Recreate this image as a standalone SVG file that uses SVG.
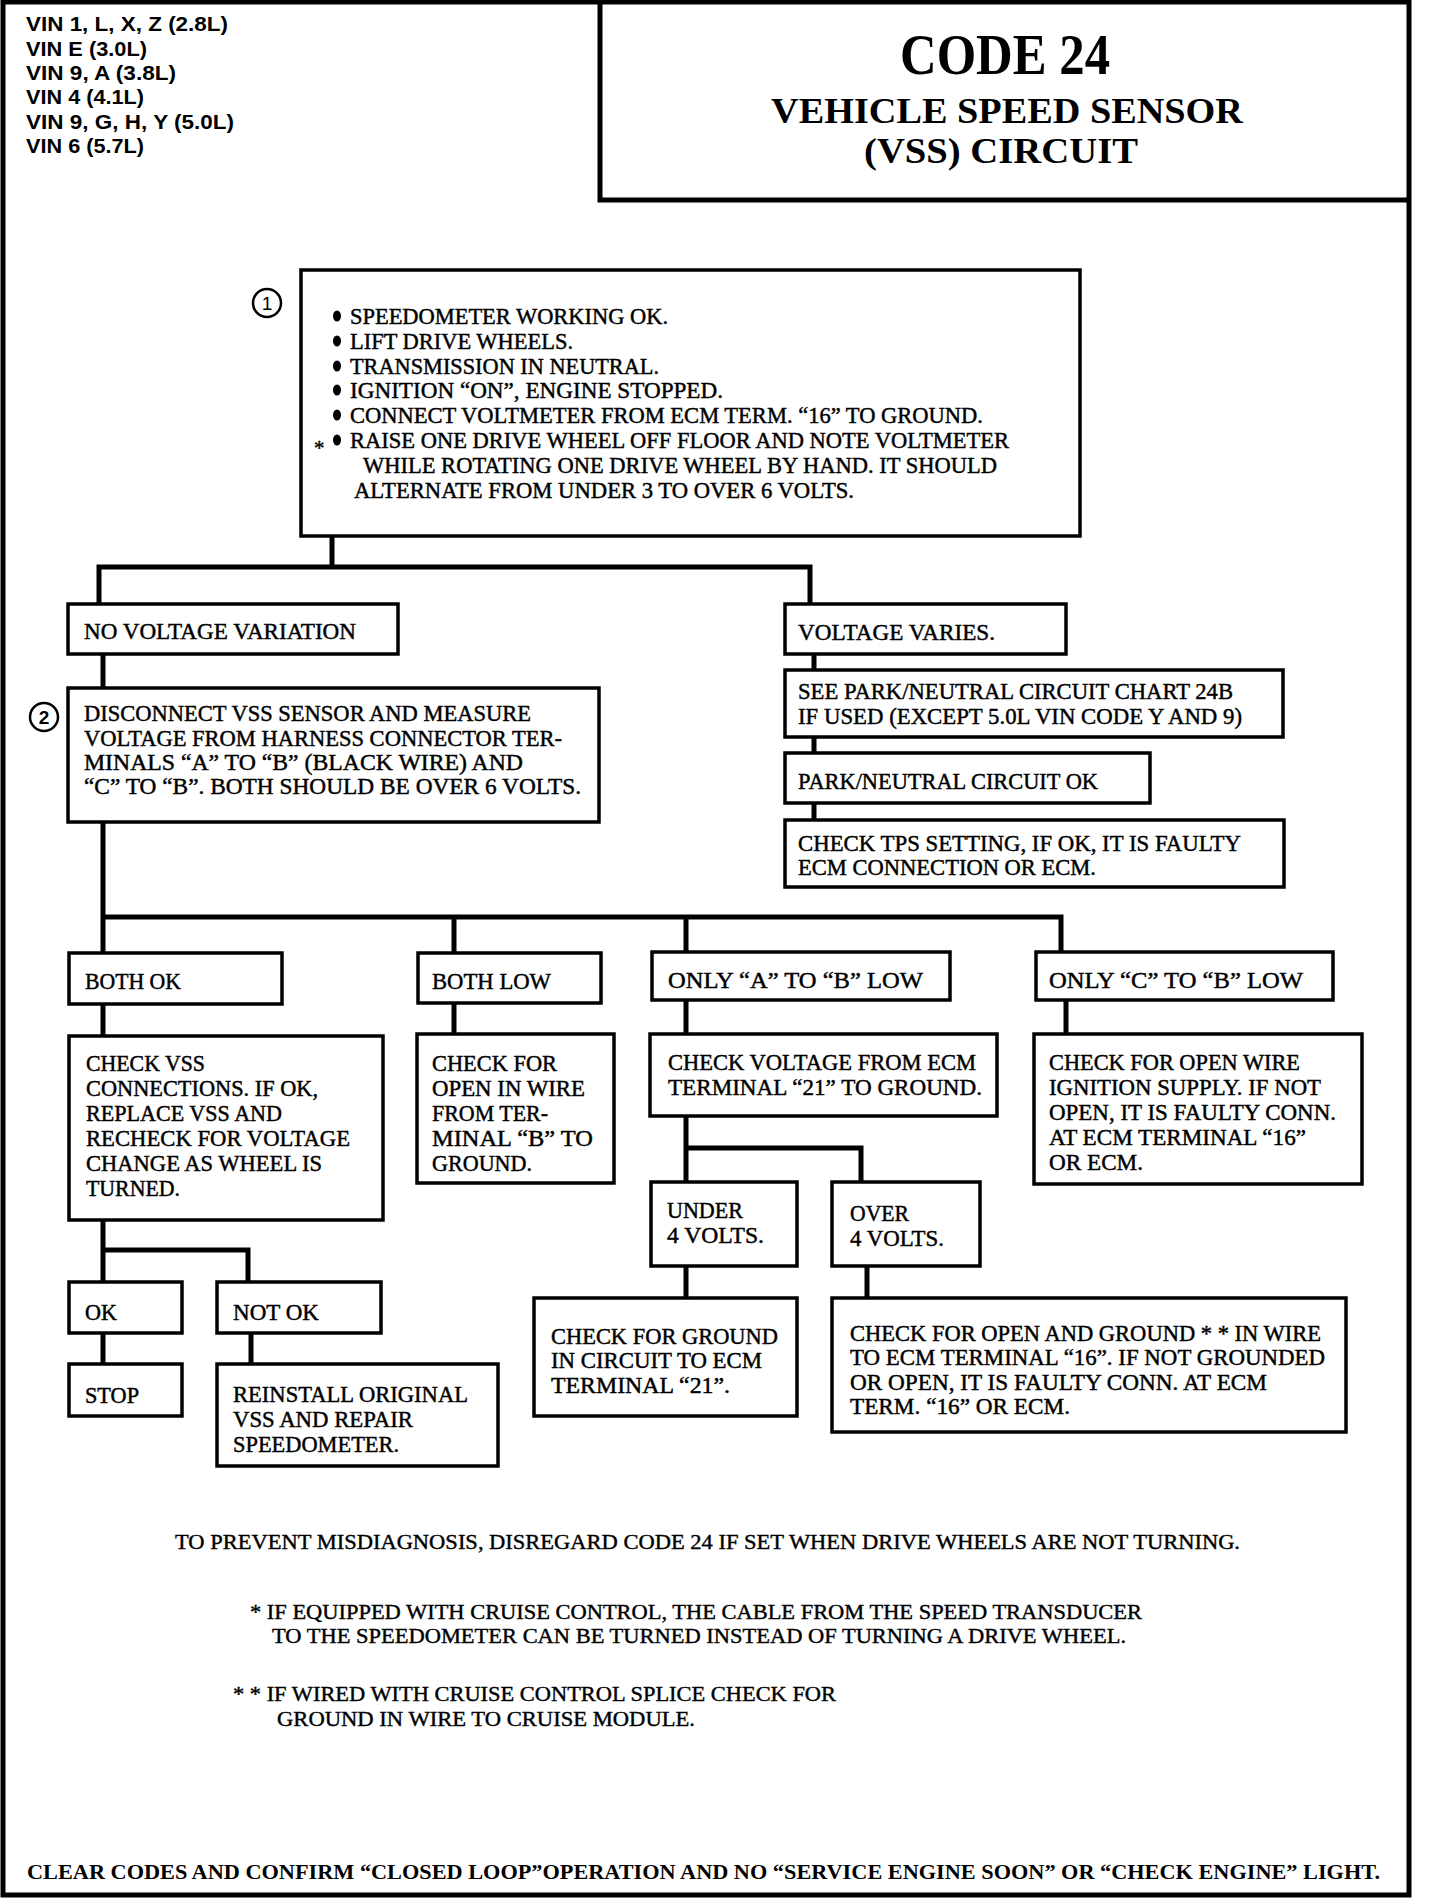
<svg xmlns="http://www.w3.org/2000/svg" width="1440" height="1902" viewBox="0 0 1440 1902">
<style>
.bg{fill:#fff}
.frame{fill:none;stroke:#000;stroke-width:5}
.box{fill:#fff;stroke:#000;stroke-width:3.5}
.conn{fill:none;stroke:#000;stroke-width:5;stroke-linecap:square}
.t{font-family:"Liberation Serif","Times New Roman",serif;font-size:23px;fill:#000;stroke:#000;stroke-width:0.45}
.n{font-family:"Liberation Serif","Times New Roman",serif;font-size:21px;fill:#000;stroke:#000;stroke-width:0.4}
.nb{font-family:"Liberation Serif","Times New Roman",serif;font-size:21px;font-weight:bold;fill:#000}
.vin{font-family:"Liberation Sans",Arial,sans-serif;font-size:20px;font-weight:bold;fill:#000}
.ti{font-family:"Liberation Serif","Times New Roman",serif;font-weight:bold;fill:#000;text-anchor:middle}
.circ{fill:#fff;stroke:#000;stroke-width:2.5}
.cn{font-family:"Liberation Sans",Arial,sans-serif;font-size:19px;fill:#000;text-anchor:middle}
</style>
<rect class="bg" x="0" y="0" width="1440" height="1902"/>

<g id="frame">
<rect class="frame" x="3" y="2" width="1406" height="1893"/>
</g>

<g id="vin-list">
<text class="vin" x="26" y="31" textLength="202" lengthAdjust="spacingAndGlyphs">VIN 1, L, X, Z (2.8L)</text>
<text class="vin" x="26" y="56" textLength="121" lengthAdjust="spacingAndGlyphs">VIN E (3.0L)</text>
<text class="vin" x="26" y="80" textLength="150" lengthAdjust="spacingAndGlyphs">VIN 9, A (3.8L)</text>
<text class="vin" x="26" y="104" textLength="118" lengthAdjust="spacingAndGlyphs">VIN 4 (4.1L)</text>
<text class="vin" x="26" y="129" textLength="208" lengthAdjust="spacingAndGlyphs">VIN 9, G, H, Y (5.0L)</text>
<text class="vin" x="26" y="153" textLength="118" lengthAdjust="spacingAndGlyphs">VIN 6 (5.7L)</text>
</g>

<g id="title">
<path class="frame" d="M600,2 V200 H1409"/>
<text class="ti" x="1005" y="74" font-size="58" textLength="210" lengthAdjust="spacingAndGlyphs">CODE 24</text>
<text class="ti" x="1007" y="123" font-size="35" textLength="472" lengthAdjust="spacingAndGlyphs">VEHICLE SPEED SENSOR</text>
<text class="ti" x="1001" y="163" font-size="35" textLength="274" lengthAdjust="spacingAndGlyphs">(VSS) CIRCUIT</text>
</g>

<g id="connectors">
<path class="conn" d="M332,536 V567 M99,567 H810 M99,567 V604 M810,567 V604"/>
<path class="conn" d="M103,654 V688"/>
<path class="conn" d="M814,654 V670 M814,737 V753 M814,803 V820"/>
<path class="conn" d="M103,822 V917 M103,917 H1061 M103,917 V953 M454,917 V953 M686,917 V953 M1061,917 V953"/>
<path class="conn" d="M103,1004 V1036 M454,1003 V1034 M686,1000 V1034 M1066,1000 V1034"/>
<path class="conn" d="M686,1116 V1182 M686,1148 H861 V1182"/>
<path class="conn" d="M686,1266 V1298 M867,1266 V1298"/>
<path class="conn" d="M103,1220 V1282 M103,1250 H248 V1282"/>
<path class="conn" d="M103,1333 V1364 M251,1333 V1364"/>
</g>

<g id="step1">
<rect class="box" x="301" y="270" width="779" height="266"/>
<g id="marker1"><ellipse class="circ" cx="267" cy="303" rx="14" ry="14"/><text class="cn" x="267" y="310">1</text></g>
<g fill="#000">
<ellipse cx="337" cy="316" rx="4" ry="5.5"/>
<ellipse cx="337" cy="341" rx="4" ry="5.5"/>
<ellipse cx="337" cy="366" rx="4" ry="5.5"/>
<ellipse cx="337" cy="390" rx="4" ry="5.5"/>
<ellipse cx="337" cy="415" rx="4" ry="5.5"/>
<ellipse cx="337" cy="440" rx="4" ry="5.5"/>
</g>
<text class="n" x="314" y="455" font-size="16">*</text>
<text class="t" x="350" y="324" textLength="318" lengthAdjust="spacingAndGlyphs">SPEEDOMETER WORKING OK.</text>
<text class="t" x="350" y="349" textLength="223" lengthAdjust="spacingAndGlyphs">LIFT DRIVE WHEELS.</text>
<text class="t" x="350" y="374" textLength="309" lengthAdjust="spacingAndGlyphs">TRANSMISSION IN NEUTRAL.</text>
<text class="t" x="350" y="398" textLength="373" lengthAdjust="spacingAndGlyphs">IGNITION “ON”, ENGINE STOPPED.</text>
<text class="t" x="350" y="423" textLength="633" lengthAdjust="spacingAndGlyphs">CONNECT VOLTMETER FROM ECM TERM. “16” TO GROUND.</text>
<text class="t" x="350" y="448" textLength="659" lengthAdjust="spacingAndGlyphs">RAISE ONE DRIVE WHEEL OFF FLOOR AND NOTE VOLTMETER</text>
<text class="t" x="363" y="473" textLength="634" lengthAdjust="spacingAndGlyphs">WHILE ROTATING ONE DRIVE WHEEL BY HAND. IT SHOULD</text>
<text class="t" x="354" y="498" textLength="500" lengthAdjust="spacingAndGlyphs">ALTERNATE FROM UNDER 3 TO OVER 6 VOLTS.</text>
</g>

<g id="no-voltage-variation">
<rect class="box" x="68" y="604" width="330" height="50"/>
<text class="t" x="84" y="639" textLength="272" lengthAdjust="spacingAndGlyphs">NO VOLTAGE VARIATION</text>
</g>

<g id="voltage-varies">
<rect class="box" x="785" y="604" width="281" height="50"/>
<text class="t" x="798" y="640" textLength="197" lengthAdjust="spacingAndGlyphs">VOLTAGE VARIES.</text>
</g>

<g id="see-park-neutral">
<rect class="box" x="785" y="670" width="498" height="67"/>
<text class="t" x="798" y="699" textLength="435" lengthAdjust="spacingAndGlyphs">SEE PARK/NEUTRAL CIRCUIT CHART 24B</text>
<text class="t" x="798" y="724" textLength="444" lengthAdjust="spacingAndGlyphs">IF USED (EXCEPT 5.0L VIN CODE Y AND 9)</text>
</g>

<g id="park-neutral-ok">
<rect class="box" x="785" y="753" width="365" height="50"/>
<text class="t" x="798" y="789" textLength="300" lengthAdjust="spacingAndGlyphs">PARK/NEUTRAL CIRCUIT OK</text>
</g>

<g id="check-tps">
<rect class="box" x="785" y="820" width="499" height="67"/>
<text class="t" x="798" y="851" textLength="443" lengthAdjust="spacingAndGlyphs">CHECK TPS SETTING, IF OK, IT IS FAULTY</text>
<text class="t" x="798" y="875" textLength="298" lengthAdjust="spacingAndGlyphs">ECM CONNECTION OR ECM.</text>
</g>

<g id="step2">
<rect class="box" x="68" y="688" width="531" height="134"/>
<g id="marker2"><ellipse class="circ" cx="44" cy="717" rx="14" ry="14"/><text class="cn" x="44" y="724" font-weight="bold">2</text></g>
<text class="t" x="84" y="721" textLength="447" lengthAdjust="spacingAndGlyphs">DISCONNECT VSS SENSOR AND MEASURE</text>
<text class="t" x="84" y="746" textLength="478" lengthAdjust="spacingAndGlyphs">VOLTAGE FROM HARNESS CONNECTOR TER-</text>
<text class="t" x="84" y="770" textLength="439" lengthAdjust="spacingAndGlyphs">MINALS “A” TO “B” (BLACK WIRE) AND</text>
<text class="t" x="84" y="794" textLength="497" lengthAdjust="spacingAndGlyphs">“C” TO “B”. BOTH SHOULD BE OVER 6 VOLTS.</text>
</g>

<g id="both-ok">
<rect class="box" x="69" y="953" width="213" height="51"/>
<text class="t" x="85" y="989" textLength="96" lengthAdjust="spacingAndGlyphs">BOTH OK</text>
</g>

<g id="both-low">
<rect class="box" x="418" y="953" width="183" height="50"/>
<text class="t" x="432" y="989" textLength="119" lengthAdjust="spacingAndGlyphs">BOTH LOW</text>
</g>

<g id="only-a-b-low">
<rect class="box" x="652" y="952" width="298" height="48"/>
<text class="t" x="668" y="988" textLength="255" lengthAdjust="spacingAndGlyphs">ONLY “A” TO “B” LOW</text>
</g>

<g id="only-c-b-low">
<rect class="box" x="1036" y="952" width="297" height="48"/>
<text class="t" x="1049" y="988" textLength="254" lengthAdjust="spacingAndGlyphs">ONLY “C” TO “B” LOW</text>
</g>

<g id="check-vss">
<rect class="box" x="69" y="1036" width="314" height="184"/>
<text class="t" x="86" y="1071" textLength="119" lengthAdjust="spacingAndGlyphs">CHECK VSS</text>
<text class="t" x="86" y="1096" textLength="232" lengthAdjust="spacingAndGlyphs">CONNECTIONS. IF OK,</text>
<text class="t" x="86" y="1121" textLength="196" lengthAdjust="spacingAndGlyphs">REPLACE VSS AND</text>
<text class="t" x="86" y="1146" textLength="264" lengthAdjust="spacingAndGlyphs">RECHECK FOR VOLTAGE</text>
<text class="t" x="86" y="1171" textLength="236" lengthAdjust="spacingAndGlyphs">CHANGE AS WHEEL IS</text>
<text class="t" x="86" y="1196" textLength="94" lengthAdjust="spacingAndGlyphs">TURNED.</text>
</g>

<g id="check-open-b">
<rect class="box" x="417" y="1034" width="197" height="149"/>
<text class="t" x="432" y="1071" textLength="125" lengthAdjust="spacingAndGlyphs">CHECK FOR</text>
<text class="t" x="432" y="1096" textLength="153" lengthAdjust="spacingAndGlyphs">OPEN IN WIRE</text>
<text class="t" x="432" y="1121" textLength="116" lengthAdjust="spacingAndGlyphs">FROM TER-</text>
<text class="t" x="432" y="1146" textLength="161" lengthAdjust="spacingAndGlyphs">MINAL “B” TO</text>
<text class="t" x="432" y="1171" textLength="100" lengthAdjust="spacingAndGlyphs">GROUND.</text>
</g>

<g id="check-voltage-21">
<rect class="box" x="650" y="1034" width="347" height="82"/>
<text class="t" x="668" y="1070" textLength="308" lengthAdjust="spacingAndGlyphs">CHECK VOLTAGE FROM ECM</text>
<text class="t" x="668" y="1095" textLength="314" lengthAdjust="spacingAndGlyphs">TERMINAL “21” TO GROUND.</text>
</g>

<g id="check-open-ignition">
<rect class="box" x="1034" y="1034" width="328" height="150"/>
<text class="t" x="1049" y="1070" textLength="251" lengthAdjust="spacingAndGlyphs">CHECK FOR OPEN WIRE</text>
<text class="t" x="1049" y="1095" textLength="272" lengthAdjust="spacingAndGlyphs">IGNITION SUPPLY. IF NOT</text>
<text class="t" x="1049" y="1120" textLength="287" lengthAdjust="spacingAndGlyphs">OPEN, IT IS FAULTY CONN.</text>
<text class="t" x="1049" y="1145" textLength="257" lengthAdjust="spacingAndGlyphs">AT ECM TERMINAL “16”</text>
<text class="t" x="1049" y="1170" textLength="94" lengthAdjust="spacingAndGlyphs">OR ECM.</text>
</g>

<g id="under-4">
<rect class="box" x="651" y="1182" width="146" height="84"/>
<text class="t" x="667" y="1218" textLength="76" lengthAdjust="spacingAndGlyphs">UNDER</text>
<text class="t" x="667" y="1243" textLength="97" lengthAdjust="spacingAndGlyphs">4 VOLTS.</text>
</g>

<g id="over-4">
<rect class="box" x="832" y="1182" width="148" height="84"/>
<text class="t" x="850" y="1221" textLength="59" lengthAdjust="spacingAndGlyphs">OVER</text>
<text class="t" x="850" y="1246" textLength="94" lengthAdjust="spacingAndGlyphs">4 VOLTS.</text>
</g>

<g id="check-ground-21">
<rect class="box" x="534" y="1298" width="263" height="118"/>
<text class="t" x="551" y="1344" textLength="227" lengthAdjust="spacingAndGlyphs">CHECK FOR GROUND</text>
<text class="t" x="551" y="1368" textLength="211" lengthAdjust="spacingAndGlyphs">IN CIRCUIT TO ECM</text>
<text class="t" x="551" y="1393" textLength="179" lengthAdjust="spacingAndGlyphs">TERMINAL “21”.</text>
</g>

<g id="check-open-ground-16">
<rect class="box" x="832" y="1298" width="514" height="134"/>
<text class="t" x="850" y="1341" textLength="471" lengthAdjust="spacingAndGlyphs">CHECK FOR OPEN AND GROUND * * IN WIRE</text>
<text class="t" x="850" y="1365" textLength="475" lengthAdjust="spacingAndGlyphs">TO ECM TERMINAL “16”. IF NOT GROUNDED</text>
<text class="t" x="850" y="1390" textLength="417" lengthAdjust="spacingAndGlyphs">OR OPEN, IT IS FAULTY CONN. AT ECM</text>
<text class="t" x="850" y="1414" textLength="220" lengthAdjust="spacingAndGlyphs">TERM. “16” OR ECM.</text>
</g>

<g id="ok">
<rect class="box" x="69" y="1282" width="113" height="51"/>
<text class="t" x="85" y="1320" textLength="32" lengthAdjust="spacingAndGlyphs">OK</text>
</g>

<g id="not-ok">
<rect class="box" x="217" y="1282" width="164" height="51"/>
<text class="t" x="233" y="1320" textLength="86" lengthAdjust="spacingAndGlyphs">NOT OK</text>
</g>

<g id="stop">
<rect class="box" x="69" y="1364" width="113" height="52"/>
<text class="t" x="85" y="1403" textLength="54" lengthAdjust="spacingAndGlyphs">STOP</text>
</g>

<g id="reinstall">
<rect class="box" x="217" y="1364" width="281" height="102"/>
<text class="t" x="233" y="1402" textLength="235" lengthAdjust="spacingAndGlyphs">REINSTALL ORIGINAL</text>
<text class="t" x="233" y="1427" textLength="180" lengthAdjust="spacingAndGlyphs">VSS AND REPAIR</text>
<text class="t" x="233" y="1452" textLength="166" lengthAdjust="spacingAndGlyphs">SPEEDOMETER.</text>
</g>

<g id="notes">
<text class="n" x="175" y="1549" textLength="1065" lengthAdjust="spacingAndGlyphs">TO PREVENT MISDIAGNOSIS, DISREGARD CODE 24 IF SET WHEN DRIVE WHEELS ARE NOT TURNING.</text>
<text class="n" x="250" y="1619" textLength="892" lengthAdjust="spacingAndGlyphs">* IF EQUIPPED WITH CRUISE CONTROL, THE CABLE FROM THE SPEED TRANSDUCER</text>
<text class="n" x="272" y="1643" textLength="854" lengthAdjust="spacingAndGlyphs">TO THE SPEEDOMETER CAN BE TURNED INSTEAD OF TURNING A DRIVE WHEEL.</text>
<text class="n" x="233" y="1701" textLength="603" lengthAdjust="spacingAndGlyphs">* * IF WIRED WITH CRUISE CONTROL SPLICE CHECK FOR</text>
<text class="n" x="277" y="1726" textLength="418" lengthAdjust="spacingAndGlyphs">GROUND IN WIRE TO CRUISE MODULE.</text>
<text class="nb" x="27" y="1879" textLength="1353" lengthAdjust="spacingAndGlyphs">CLEAR CODES AND CONFIRM “CLOSED LOOP”OPERATION AND NO “SERVICE ENGINE SOON” OR “CHECK ENGINE” LIGHT.</text>
</g>
</svg>
